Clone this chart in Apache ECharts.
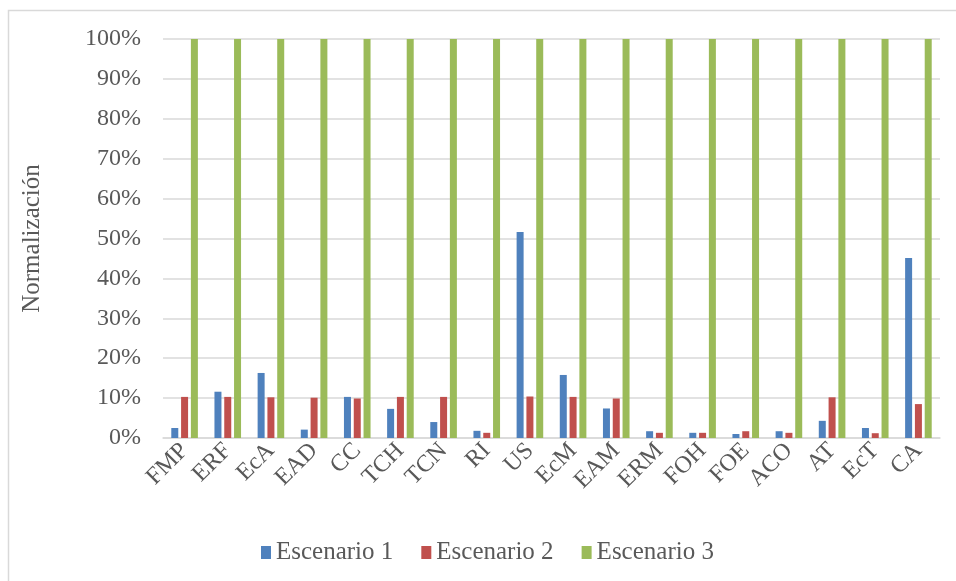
<!DOCTYPE html>
<html>
<head>
<meta charset="utf-8">
<script src="https://cdn.jsdelivr.net/npm/echarts@6/dist/echarts.min.js"></script>
<style>
  html, body { margin: 0; padding: 0; background: #fff; }
  #chart { width: 956px; height: 581px; }
</style>
</head>
<body>
<div id="chart"></div>
<script>
// categorías
const categories = ['FMP', 'ERF', 'EcA', 'EAD', 'CC', 'TCH', 'TCN', 'RI', 'US', 'EcM', 'EAM', 'ERM', 'FOH', 'FOE', 'ACO', 'AT', 'EcT', 'CA']

// valores (%)
const escenario1 = [2.5, 11.6, 16.3, 2.1, 10.3, 7.3, 4.0, 1.8, 51.6, 15.8, 7.4, 1.7, 1.3, 1.0, 1.7, 4.3, 2.5, 45.1]
const escenario2 = [10.3, 10.3, 10.2, 10.1, 9.9, 10.3, 10.3, 1.3, 10.4, 10.3, 9.9, 1.3, 1.3, 1.7, 1.3, 10.2, 1.2, 8.5]
const escenario3 = [100, 100, 100, 100, 100, 100, 100, 100, 100, 100, 100, 100, 100, 100, 100, 100, 100, 100]

const yTicks = [0, 10, 20, 30, 40, 50, 60, 70, 80, 90, 100]

const chart = echarts.init(document.getElementById('chart'))

const font = 'Liberation Serif'
const textColor = '#595959'
const gridColor = '#d9d9d9'

chart.setOption({
  animation: false,
  textStyle: { fontFamily: font },
  graphic: [
    {
      type: 'rect',
      shape: { x: 8.5, y: 10.5, width: 960, height: 600 },
      style: { fill: 'none', stroke: gridColor, lineWidth: 1.5 },
      silent: true
    }
  ],
  grid: {
    left: 163,
    right: 16,
    top: 39,
    bottom: 143
  },
  legend: {
    left: 256,
    top: 535,
    itemWidth: 10,
    itemHeight: 13,
    itemGap: 28,
    icon: 'rect',
    formatter: '{t|{name}}',
    textStyle: {
      fontFamily: font,
      fontSize: 25,
      color: textColor,
      rich: {
        t: { fontFamily: font, fontSize: 25, color: textColor }
      }
    },
    data: ['Escenario 1', 'Escenario 2', 'Escenario 3']
  },
  xAxis: {
    type: 'category',
    data: categories,
    axisTick: { show: false },
    axisLine: { lineStyle: { color: gridColor, width: 1.5 } },
    axisLabel: {
      interval: 0,
      rotate: 45,
      margin: 9,
      color: textColor,
      fontFamily: font,
      fontSize: 24
    }
  },
  yAxis: {
    type: 'value',
    min: yTicks[0],
    max: yTicks[yTicks.length - 1],
    interval: 10,
    name: 'Normalización',
    nameLocation: 'middle',
    nameGap: 118,
    nameRotate: 90,
    nameTextStyle: { fontFamily: font, fontSize: 25, color: textColor },
    axisLine: { show: false },
    axisTick: { show: false },
    splitLine: { lineStyle: { color: gridColor, width: 1.5 } },
    axisLabel: {
      margin: 22,
      color: textColor,
      fontFamily: font,
      fontSize: 24,
      formatter: '{value}%'
    }
  },
  series: [
    {
      name: 'Escenario 1',
      type: 'bar',
      data: escenario1,
      barWidth: 7,
      barGap: '40%',
      itemStyle: { color: '#4F81BD' }
    },
    {
      name: 'Escenario 2',
      type: 'bar',
      data: escenario2,
      barWidth: 7,
      barGap: '40%',
      itemStyle: { color: '#C0504D' }
    },
    {
      name: 'Escenario 3',
      type: 'bar',
      data: escenario3,
      barWidth: 7,
      barGap: '40%',
      itemStyle: { color: '#9BBB59' }
    }
  ]
})
</script>
</body>
</html>
